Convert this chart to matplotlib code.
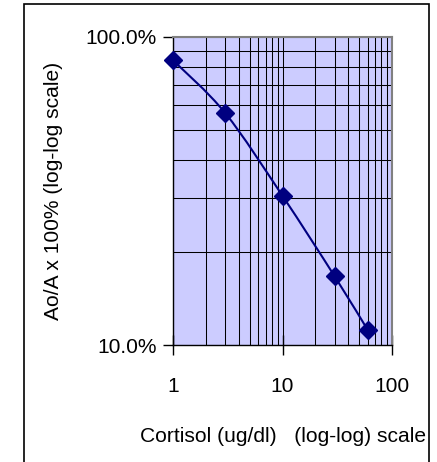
import numpy as np
import matplotlib
matplotlib.use("Agg")
import matplotlib.pyplot as plt
from matplotlib.path import Path
from matplotlib.patches import PathPatch, Rectangle
from matplotlib.ticker import FixedLocator, NullFormatter

# data
cortisol = [1, 3, 10, 30, 60]
ao_a = [0.84, 0.566, 0.305, 0.167, 0.112]

x_ticks = [1, 10, 100]
x_tick_labels = ["1", "10", "100"]
y_ticks = [0.1, 1.0]
y_tick_labels = ["10.0%", "100.0%"]

plt.rcParams['font.family'] = ['Liberation Sans', 'DejaVu Sans']
FS = 15.1

fig = plt.figure(figsize=(4.37, 4.62), dpi=100)
ax = fig.add_axes([0.396, 0.253, 0.501, 0.667])
ax.set_facecolor('#CCCCFF')
ax.set_xscale('log')
ax.set_yscale('log')
ax.set_xlim(1, 100)
ax.set_ylim(0.1, 1.0)

# gridlines at every minor/major step
ax.xaxis.set_minor_locator(FixedLocator([m * d for d in (1, 10) for m in range(2, 10)]))
ax.yaxis.set_minor_locator(FixedLocator([m * 0.1 for m in range(2, 10)]))
ax.xaxis.set_minor_formatter(NullFormatter())
ax.yaxis.set_minor_formatter(NullFormatter())
ax.grid(True, which='both', color='black', linewidth=0.75)
ax.set_axisbelow(True)

ax.set_xticks(x_ticks)
ax.set_xticklabels(x_tick_labels)
ax.set_yticks(y_ticks)
ax.set_yticklabels(y_tick_labels)
ax.tick_params(which='minor', length=0)
ax.tick_params(axis='x', which='major', direction='inout', length=14, width=1,
               labelsize=FS, pad=16)
ax.tick_params(axis='y', which='major', direction='out', length=7, width=1,
               labelsize=FS, pad=5)

for side in ('top', 'right'):
    ax.spines[side].set_color('#808080')
    ax.spines[side].set_linewidth(1.5)
for side in ('left', 'bottom'):
    ax.spines[side].set_color('black')
    ax.spines[side].set_linewidth(1)

# smoothed line (Excel-style bezier in log space)
lx = np.log10(cortisol)
ly = np.log10(ao_a)
n = len(lx)
verts = [(cortisol[0], ao_a[0])]
codes = [Path.MOVETO]
for i in range(n - 1):
    p0 = max(i - 1, 0)
    p3 = min(i + 2, n - 1)
    c1 = (lx[i] + (lx[i + 1] - lx[p0]) / 6, ly[i] + (ly[i + 1] - ly[p0]) / 6)
    c2 = (lx[i + 1] - (lx[p3] - lx[i]) / 6, ly[i + 1] - (ly[p3] - ly[i]) / 6)
    verts += [(10 ** c1[0], 10 ** c1[1]), (10 ** c2[0], 10 ** c2[1]),
              (cortisol[i + 1], ao_a[i + 1])]
    codes += [Path.CURVE4] * 3
ax.add_patch(PathPatch(Path(verts, codes), facecolor='none',
                       edgecolor='#000080', linewidth=1.5, zorder=3))
ax.plot(cortisol, ao_a, linestyle='none', marker='D', markersize=9,
        color='#000080', zorder=4, clip_on=False)

ax.set_ylabel('Ao/A x 100% (log-log scale)', fontsize=FS, labelpad=16)
ax.set_xlabel('Cortisol (ug/dl)   (log-log) scale', fontsize=FS, labelpad=22)

# outer chart border
fig.patches.append(Rectangle((24 / 437, -0.1), (429 - 24) / 437, 1.1 - 4 / 462,
                             transform=fig.transFigure, fill=False,
                             edgecolor='black', linewidth=1.2))

fig.savefig('out.png', dpi=100)
